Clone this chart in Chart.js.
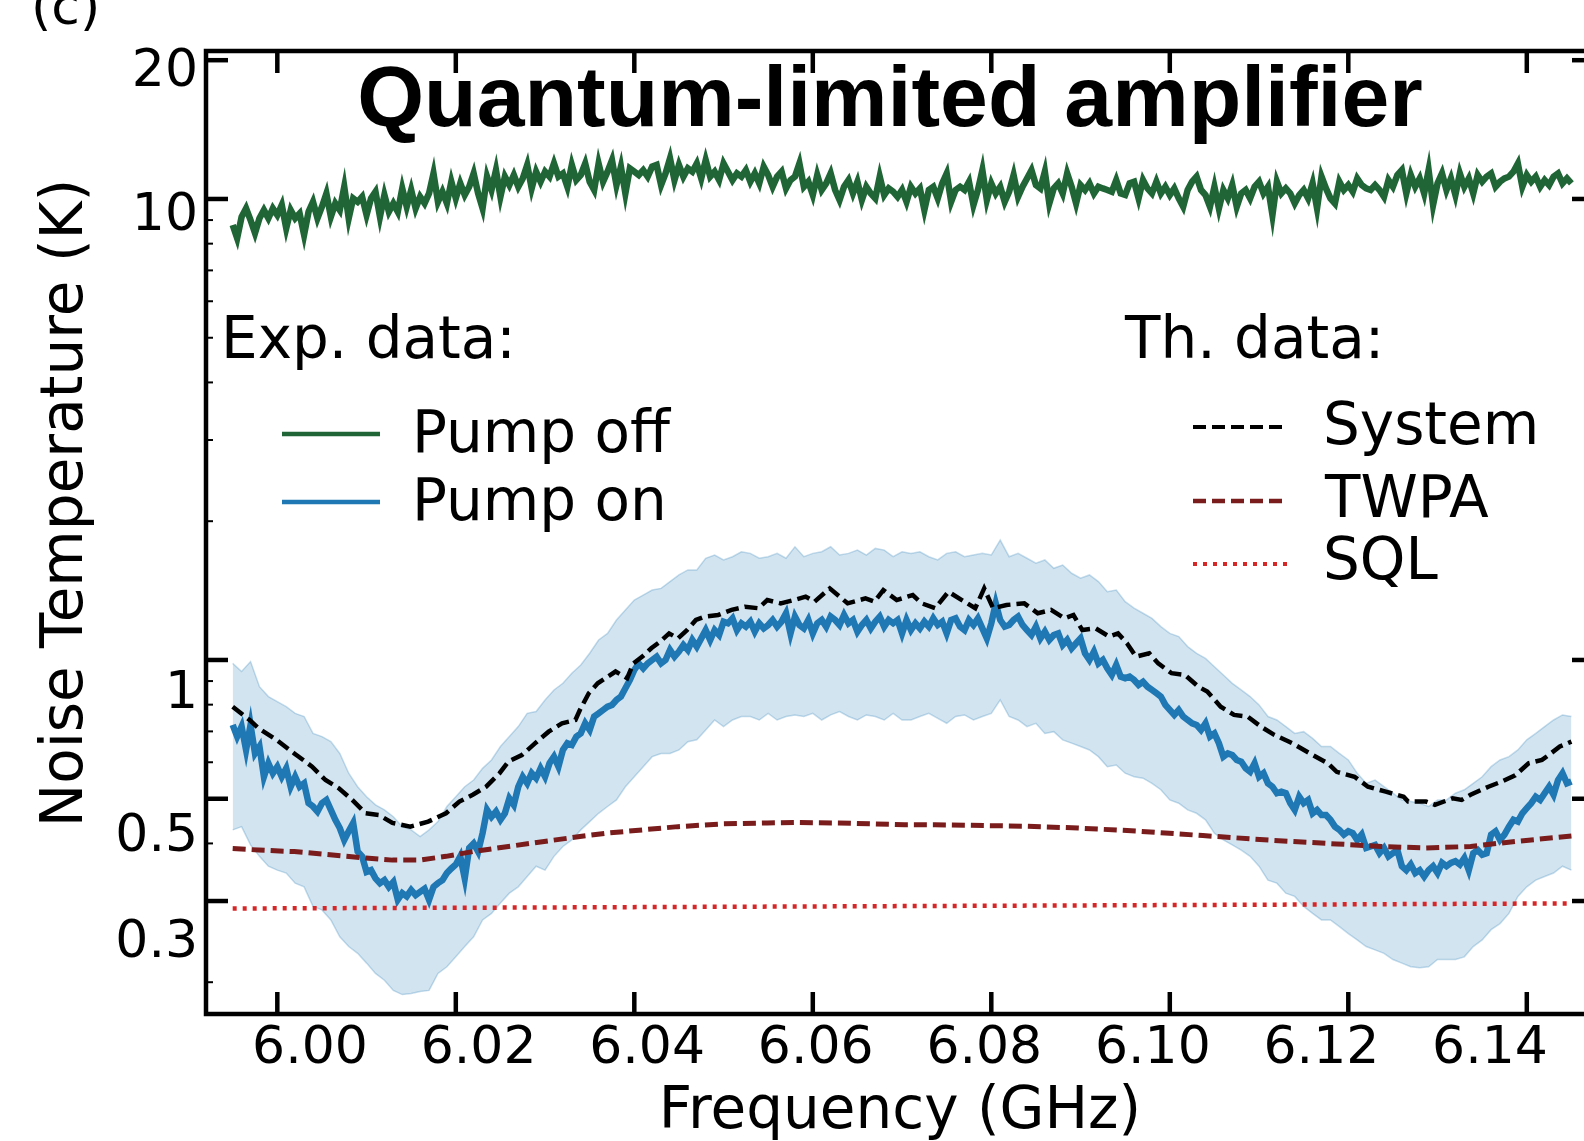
<!DOCTYPE html>
<html><head><meta charset="utf-8">
<script src="https://cdn.jsdelivr.net/npm/chart.js@4/dist/chart.umd.min.js"></script>
<style>
html,body{margin:0;padding:0;background:#fff;overflow:hidden;width:1584px;height:1141px;}
#wrap{position:absolute;left:0;top:0;width:1600px;height:1141px;}
canvas{display:block;}
</style></head><body>
<div id="wrap"><canvas id="c" width="1600" height="1141"></canvas></div>
<script>
// ---------------- DATA ----------------
const FREQ_START = 5.995;          // GHz, first sample of measured traces
const FREQ_STEP_EXP = 0.0005;      // sampling of Pump off / Pump on traces
const FREQ_STEP_BAND = 0.001;      // sampling of the uncertainty band edges

const pumpOff = [
8.78,8.22,9.15,9.54,9.00,8.43,9.08,9.46,9.08,9.54,
9.23,9.70,8.64,9.46,9.08,9.30,8.36,9.38,9.86,9.08,
9.62,10.28,9.15,9.78,9.46,10.63,9.08,10.03,9.86,10.11,
9.23,10.03,10.37,9.15,10.20,9.38,9.78,9.38,10.54,9.62,
10.46,9.54,10.11,9.78,10.28,11.36,9.86,10.37,9.78,10.90,
10.03,10.81,10.20,10.63,11.36,10.28,9.54,11.18,10.46,11.55,
10.11,11.18,10.72,11.27,10.63,11.08,11.85,10.54,11.46,10.90,
11.46,11.18,11.94,11.18,11.36,10.63,11.85,10.99,11.27,11.94,
10.90,10.46,11.94,10.90,11.46,12.14,10.72,11.75,10.28,11.65,
11.46,11.27,11.55,11.18,11.75,11.85,10.72,11.36,12.25,10.99,
11.85,11.18,11.65,11.46,11.94,11.08,12.14,11.18,11.46,10.99,
11.94,11.46,10.99,11.36,11.18,11.55,10.90,11.36,10.81,11.75,
11.27,10.63,11.18,11.46,10.54,10.99,11.18,11.94,10.63,10.90,
10.20,11.27,10.46,10.81,11.36,10.46,9.95,10.63,10.99,10.28,
10.90,9.95,10.63,10.28,10.03,11.18,10.20,10.54,10.37,10.11,
10.46,9.86,10.63,10.28,10.54,9.46,10.46,10.63,10.03,10.81,
11.36,9.86,10.46,10.63,10.46,10.90,9.70,10.46,11.55,9.95,
10.81,10.28,10.63,9.86,10.37,11.27,10.11,10.63,11.08,11.55,
10.72,10.54,11.46,9.78,10.54,10.81,10.28,11.36,10.63,9.78,
10.72,10.46,10.81,10.28,10.63,10.54,10.46,10.37,10.99,10.28,
10.20,10.81,10.90,10.03,10.99,10.54,10.28,10.90,10.28,10.63,
10.20,10.54,10.03,9.62,10.46,10.90,11.18,10.46,10.20,9.62,
10.63,9.54,10.46,10.03,10.72,9.62,10.28,10.46,10.03,10.63,
10.90,10.28,10.63,9.23,10.90,10.28,10.54,10.28,9.78,10.20,
10.46,10.03,10.81,9.54,11.18,10.54,10.03,9.78,10.90,10.46,
10.72,10.37,11.08,10.72,10.54,10.46,10.72,10.46,10.11,10.99,
10.63,11.27,11.55,10.28,11.27,10.63,11.08,10.28,11.55,9.70,
10.81,11.36,10.46,11.08,10.20,11.36,10.63,11.08,10.28,11.27,
10.90,11.18,11.36,10.63,10.90,11.08,11.18,11.46,11.94,10.63,
11.27,10.90,11.18,10.63,10.99,10.72,11.18,11.36,10.81,11.08,
10.81];

const pumpOn = [
0.723,0.682,0.717,0.638,0.723,0.627,0.649,0.558,0.597,0.568,
0.587,0.558,0.582,0.531,0.558,0.531,0.540,0.489,0.481,0.469,
0.489,0.497,0.473,0.450,0.432,0.407,0.425,0.443,0.384,0.375,
0.347,0.350,0.336,0.328,0.333,0.322,0.330,0.302,0.312,0.307,
0.317,0.309,0.314,0.319,0.302,0.322,0.328,0.333,0.345,0.353,
0.360,0.375,0.336,0.391,0.400,0.384,0.421,0.473,0.457,0.469,
0.450,0.465,0.501,0.485,0.531,0.558,0.540,0.568,0.554,0.582,
0.558,0.597,0.617,0.587,0.638,0.660,0.654,0.682,0.693,0.729,
0.705,0.754,0.766,0.779,0.792,0.799,0.819,0.833,0.868,0.905,
0.951,0.983,0.959,0.983,1.000,1.017,0.983,1.000,1.051,1.017,
1.043,1.078,1.051,1.105,1.069,1.114,1.161,1.105,1.161,1.133,
1.211,1.201,1.231,1.161,1.201,1.181,1.211,1.152,1.201,1.171,
1.191,1.221,1.181,1.211,1.263,1.142,1.242,1.191,1.171,1.221,
1.142,1.201,1.221,1.181,1.242,1.221,1.191,1.252,1.201,1.221,
1.152,1.191,1.221,1.171,1.211,1.242,1.181,1.221,1.201,1.221,
1.142,
1.221,1.161,1.201,1.171,1.211,1.181,1.231,1.191,1.211,1.142,
1.221,1.231,1.181,1.161,1.221,1.191,1.231,1.171,1.114,1.201,
1.327,1.221,1.181,1.191,1.221,1.242,1.191,1.161,1.133,1.181,
1.114,1.152,1.105,1.133,1.142,1.078,1.105,1.060,1.087,1.114,
1.034,1.000,1.043,0.983,1.000,0.959,0.928,0.975,0.920,0.913,
0.920,0.905,0.883,0.897,0.875,0.861,0.847,0.833,0.799,0.779,
0.760,0.779,0.754,0.741,0.729,0.723,0.705,0.729,0.682,0.693,
0.660,0.617,0.627,0.622,0.607,0.602,0.582,0.572,0.597,0.558,
0.568,0.540,0.531,0.514,0.518,0.514,0.489,0.473,0.505,0.489,
0.497,0.465,0.473,0.461,0.461,0.450,0.435,0.428,0.418,0.425,
0.421,0.407,0.418,0.391,0.394,0.397,0.381,0.391,0.375,0.381,
0.387,0.357,0.350,0.360,0.345,0.350,0.339,0.350,0.357,0.345,
0.363,0.357,0.363,0.366,0.360,0.372,0.350,0.381,0.387,0.378,
0.381,0.418,0.425,0.407,0.418,0.435,0.450,0.446,0.465,0.477,
0.489,0.505,0.497,0.514,0.531,0.510,0.549,0.568,0.540,0.545];

const bandUpper = [
0.983,0.944,0.992,0.875,0.833,0.812,0.792,0.766,0.754,0.693,
0.682,0.665,0.627,0.568,0.531,0.505,0.485,0.473,0.457,0.435,
0.428,0.414,0.428,0.446,0.481,0.505,0.531,0.549,0.582,0.607,
0.649,0.682,0.717,0.766,0.773,0.819,0.861,0.890,0.936,0.975,
1.034,1.105,1.142,1.221,1.284,1.349,1.383,1.418,1.430,1.479,
1.529,1.568,1.568,1.662,1.689,1.648,1.675,1.717,1.703,1.662,
1.675,1.703,1.662,1.760,1.675,1.703,1.717,1.760,1.689,1.703,
1.731,1.689,1.746,1.731,1.675,1.717,
1.703,1.717,1.675,1.648,1.703,1.717,1.675,1.689,1.703,1.689,
1.820,1.675,1.703,1.662,1.621,1.648,1.581,1.607,1.542,1.504,
1.529,1.479,1.406,1.418,1.338,1.295,1.263,1.231,1.181,1.142,
1.124,1.069,1.034,1.008,0.967,0.928,0.890,0.861,0.833,0.799,
0.754,0.741,0.717,0.693,0.699,0.676,0.649,0.649,0.627,0.607,
0.568,0.540,0.549,0.531,0.514,0.497,0.493,0.489,0.481,0.497,
0.497,0.514,0.523,0.540,0.558,0.587,0.607,0.617,0.638,0.671,
0.693,0.717,0.741,0.760,0.754];

const bandLower = [
0.428,0.435,0.397,0.375,0.357,0.350,0.345,0.328,0.322,0.292,
0.287,0.273,0.251,0.239,0.231,0.220,0.209,0.202,0.192,0.188,
0.189,0.191,0.192,0.209,0.216,0.227,0.239,0.251,0.273,0.282,
0.297,0.312,0.322,0.339,0.357,0.350,0.375,0.394,0.407,0.428,
0.446,0.465,0.481,0.497,0.531,0.558,0.587,0.617,0.627,0.627,
0.638,0.665,0.671,0.705,0.741,0.717,0.741,0.754,0.754,0.741,
0.766,0.741,0.754,0.760,0.754,0.766,0.741,0.760,0.773,0.754,
0.741,0.760,0.754,0.741,0.766,0.741,
0.741,0.754,0.766,0.747,0.729,0.754,0.760,0.741,0.754,0.766,
0.819,0.754,0.741,0.717,0.729,0.693,0.699,0.671,0.660,0.649,
0.638,0.617,0.587,0.592,0.568,0.558,0.554,0.540,0.523,0.497,
0.489,0.473,0.465,0.450,0.421,0.407,0.397,0.387,0.375,0.357,
0.333,0.328,0.312,0.307,0.292,0.282,0.273,0.273,0.264,0.255,
0.247,0.239,0.235,0.231,0.224,0.220,0.216,0.215,0.216,0.224,
0.224,0.224,0.227,0.239,0.247,0.260,0.268,0.282,0.307,0.322,
0.333,0.339,0.345,0.357,0.350];

const systemFreq = [5.9950,5.9969,5.9979,5.9999,6.0019,6.0039,6.0054,6.0069,6.0084,6.0099,
6.0114,6.0129,6.0149,6.0169,6.0189,6.0204,6.0219,6.0234,6.0249,6.0259,
6.0274,6.0289,6.0304,6.0319,6.0334,6.0339,6.0349,6.0359,6.0379,6.0392,
6.0399,6.0409,6.0419,6.0429,6.0439,6.0449,6.0459,6.0469,6.0479,6.0494,
6.0509,6.0524,6.0539,6.0549,6.0564,6.0579,6.0592,6.0602,6.0619,6.0639,
6.0659,6.0669,6.0679,6.0694,
6.0712,6.0722,6.0737,6.0752,6.0767,6.0782,6.0792,6.0802,6.0817,6.0837,
6.0852,6.0867,6.0882,6.0892,6.0902,6.0917,6.0932,6.0942,6.0952,6.0962,
6.0977,6.0987,6.1002,6.1017,6.1032,6.1042,6.1057,6.1072,6.1087,6.1102,
6.1117,6.1137,6.1157,6.1177,6.1187,6.1207,6.1222,6.1242,6.1262,6.1267,
6.1287,6.1297,6.1317,6.1327,6.1337,6.1357,6.1372,6.1387,6.1402,6.1417,
6.1427,6.1437,6.1450];
const systemTemp = [0.792,0.741,0.711,0.671,0.627,0.587,0.549,0.527,0.497,0.465,
0.461,0.443,0.435,0.446,0.465,0.493,0.510,0.531,0.568,0.602,
0.622,0.660,0.699,0.729,0.741,0.779,0.847,0.890,0.944,0.913,
0.983,1.017,1.060,1.096,1.142,1.114,1.161,1.221,1.242,1.252,
1.284,1.305,1.295,1.349,1.327,1.349,1.372,1.338,1.430,1.327,
1.360,1.338,1.418,1.349,
1.383,1.327,1.295,1.406,1.349,1.295,1.430,1.295,1.316,1.327,
1.263,1.284,1.231,1.252,1.161,1.171,1.124,1.142,1.087,1.017,
1.034,0.983,0.936,0.928,0.875,0.854,0.792,0.760,0.754,0.717,
0.688,0.660,0.627,0.597,0.572,0.558,0.531,0.518,0.505,0.493,
0.493,0.485,0.501,0.497,0.510,0.531,0.545,0.562,0.597,0.607,
0.627,0.649,0.665];

const twpaFreq = [5.995,5.9979,6.0019,6.0059,6.0099,6.0129,6.0159,6.0189,6.0219,6.0259,
6.0299,6.0339,6.0369,6.0409,6.0449,6.0499,6.0549,6.0579,6.0629,6.0703,
6.0737,6.0837,6.0897,6.0967,6.1037,6.1117,6.1187,6.1237,6.1287,6.1337,6.1387,6.145];
const twpaTemp = [0.390,0.387,0.384,0.378,0.372,0.368,0.368,0.375,0.384,0.394,
0.404,0.414,0.421,0.428,0.435,0.441,0.443,0.444,0.443,0.439,
0.439,0.436,0.432,0.425,0.416,0.406,0.399,0.394,0.391,0.394,0.404,0.415];

const sqlFreq = [5.995, 6.03, 6.07, 6.11, 6.145];
const sqlTemp = [0.289, 0.2905, 0.2925, 0.2945, 0.2965];

const xTickValues = [6.00, 6.02, 6.04, 6.06, 6.08, 6.10, 6.12, 6.14];
const xTickLabels = ['6.00','6.02','6.04','6.06','6.08','6.10','6.12','6.14'];
const yTickValues = [20, 10, 1, 0.5, 0.3];
const yTickLabels = ['20','10','1','0.5','0.3'];
const yMinorTicks = [0.2,0.4,0.6,0.7,0.8,0.9,2,3,4,5,6,7,8,9];

const titleText = 'Quantum-limited amplifier';
const xTitleText = 'Frequency (GHz)';
const yTitleText = 'Noise Temperature (K)';
const panelText = '(c)';
const expHeader = 'Exp. data:';
const thHeader = 'Th. data:';
const expLabels = ['Pump off', 'Pump on'];
const thLabels = ['System', 'TWPA', 'SQL'];

// axis ranges (data axes and label axes)
const X_MIN = 5.99201, X_MAX = 6.14753;
const Y_MIN = 0.17063, Y_MAX = 20.94;
const XL_MIN = 5.98766, XL_MAX = 6.15234;
const YL_MIN = 0.2141, YL_MAX = 22.14;

// colours
const C_OFF = '#1f6535', C_ON = '#1f77b4', C_SYS = '#000000', C_TWPA = '#7a1c1c', C_SQL = '#d62728';

// ---------------- BUILD ----------------
const gridSeries = (vals, step) => vals.map((v, i) => ({x: +(FREQ_START + i * step).toFixed(5), y: v}));
const pairs = (xs, ys) => xs.map((x, i) => ({x: x, y: ys[i]}));

Chart.defaults.font.family = 'DejaVu Sans';
Chart.defaults.color = '#000';

const FONT = 'DejaVu Sans';

function seg(ctx, x1, y1, x2, y2, color, w, dash) {
  ctx.save();
  ctx.strokeStyle = color; ctx.lineWidth = w; ctx.lineCap = 'butt';
  ctx.setLineDash(dash || []);
  ctx.beginPath(); ctx.moveTo(x1, y1); ctx.lineTo(x2, y2); ctx.stroke();
  ctx.restore();
}

const decor = {
  id: 'decor',
  afterDatasetsDraw(chart) {
    const ctx = chart.ctx, a = chart.chartArea;
    const xs = chart.scales.x, ys = chart.scales.y;
    yTickValues.forEach(v => {
      const p = ys.getPixelForValue(v);
      seg(ctx, a.left, p, a.left + 22, p, '#000', 4.5);
      seg(ctx, a.right, p, a.right - 22, p, '#000', 4.5);
    });
    yMinorTicks.forEach(v => {
      const p = ys.getPixelForValue(v);
      seg(ctx, a.left, p, a.left + 7, p, '#000', 2);
      seg(ctx, a.right, p, a.right - 7, p, '#000', 2);
    });
    xTickValues.forEach(v => {
      const p = xs.getPixelForValue(v);
      seg(ctx, p, a.bottom, p, a.bottom - 22, '#000', 4.5);
      seg(ctx, p, a.top, p, a.top + 22, '#000', 4.5);
    });
    ctx.save();
    ctx.strokeStyle = '#000'; ctx.lineWidth = 4.5;
    ctx.strokeRect(a.left, a.top, a.right - a.left, a.bottom - a.top);
    ctx.restore();
  },
  afterDraw(chart) {
    const ctx = chart.ctx;
    ctx.save();
    ctx.fillStyle = '#000';
    // title
    ctx.font = 'bold 86px "Liberation Sans"';
    ctx.textAlign = 'center'; ctx.textBaseline = 'alphabetic';
    ctx.fillText(titleText, 890, 126);
    // panel label (mostly cut off at the top edge)
    ctx.font = '52px "' + FONT + '"';
    ctx.textAlign = 'left';
    ctx.fillText(panelText, 31, 24);
    // y title
    ctx.save();
    ctx.font = '58px "' + FONT + '"';
    ctx.translate(82, 503);
    ctx.rotate(-Math.PI / 2);
    ctx.textAlign = 'center';
    ctx.fillText(yTitleText, 0, 0);
    ctx.restore();
    // legend
    ctx.font = '58px "' + FONT + '"';
    ctx.textAlign = 'left';
    ctx.fillText(expHeader, 221, 358);
    ctx.fillText(thHeader, 1125, 358);
    seg(ctx, 282, 434, 380, 434, C_OFF, 4.5);
    ctx.fillText(expLabels[0], 412, 452);
    seg(ctx, 282, 502, 380, 502, C_ON, 4.5);
    ctx.fillText(expLabels[1], 412, 520);
    seg(ctx, 1193, 427, 1282, 427, C_SYS, 4, [13, 6]);
    ctx.fillText(thLabels[0], 1323, 444);
    seg(ctx, 1193, 501, 1282, 501, C_TWPA, 4.5, [13, 6]);
    ctx.fillText(thLabels[1], 1325, 517);
    seg(ctx, 1193, 564, 1287, 564, C_SQL, 4, [4, 6]);
    ctx.fillText(thLabels[2], 1323, 579);
    ctx.restore();
  }
};

const common = {pointRadius: 0, pointHoverRadius: 0, tension: 0, xAxisID: 'x', yAxisID: 'y'};

new Chart(document.getElementById('c'), {
  type: 'line',
  data: {
    datasets: [
      Object.assign({label: thLabels[1], data: pairs(twpaFreq, twpaTemp), borderColor: C_TWPA, borderWidth: 5, borderDash: [13, 6], fill: false}, common),
      Object.assign({label: thLabels[2], data: pairs(sqlFreq, sqlTemp), borderColor: C_SQL, borderWidth: 4.5, borderDash: [4, 6], fill: false}, common),
      Object.assign({label: thLabels[0], data: pairs(systemFreq, systemTemp), borderColor: C_SYS, borderWidth: 4.5, borderDash: [13, 6], fill: false}, common),
      Object.assign({label: expLabels[1], data: gridSeries(pumpOn, FREQ_STEP_EXP), borderColor: C_ON, borderWidth: 6.5, fill: false}, common),
      Object.assign({label: expLabels[0], data: gridSeries(pumpOff, FREQ_STEP_EXP), borderColor: C_OFF, borderWidth: 6.5, fill: false}, common),
      Object.assign({label: 'band upper', data: gridSeries(bandUpper, FREQ_STEP_BAND), borderColor: 'rgba(31,119,180,0.25)', borderWidth: 1.5, backgroundColor: 'rgba(31,119,180,0.2)', fill: '+1'}, common),
      Object.assign({label: 'band lower', data: gridSeries(bandLower, FREQ_STEP_BAND), borderColor: 'rgba(31,119,180,0.25)', borderWidth: 1.5, fill: false}, common)
    ]
  },
  options: {
    responsive: false,
    animation: false,
    devicePixelRatio: 1,
    events: [],
    layout: {padding: {top: 51, right: 6, left: 0, bottom: 0}},
    plugins: {legend: {display: false}, tooltip: {enabled: false}, title: {display: false}},
    scales: {
      x: {type: 'linear', display: false, min: X_MIN, max: X_MAX, bounds: 'data'},
      y: {type: 'logarithmic', display: false, min: Y_MIN, max: Y_MAX, bounds: 'data'},
      xLab: {
        type: 'linear', position: 'bottom', min: XL_MIN, max: XL_MAX, bounds: 'data',
        grid: {display: false, drawTicks: false}, border: {display: false},
        afterBuildTicks: s => { s.ticks = xTickValues.map(v => ({value: v})); },
        afterFit: s => { s.height = 127; },
        ticks: {autoSkip: false, maxRotation: 0, minRotation: 0, padding: 4, color: '#000',
                font: {family: FONT, size: 52}, callback: (v, i) => xTickLabels[i]},
        title: {display: true, text: xTitleText, color: '#000', padding: {top: 0, bottom: 0},
                font: {family: FONT, size: 58, lineHeight: 0.98}}
      },
      yLab: {
        type: 'logarithmic', position: 'left', min: YL_MIN, max: YL_MAX, bounds: 'data',
        grid: {display: false, drawTicks: false}, border: {display: false},
        afterBuildTicks: s => { s.ticks = yTickValues.map(v => ({value: v})); },
        afterFit: s => { s.width = 206; },
        ticks: {autoSkip: false, padding: 8, color: '#000',
                font: {family: FONT, size: 52}, callback: (v, i) => yTickLabels[i]}
      }
    }
  },
  plugins: [decor]
});
</script>
</body></html>
